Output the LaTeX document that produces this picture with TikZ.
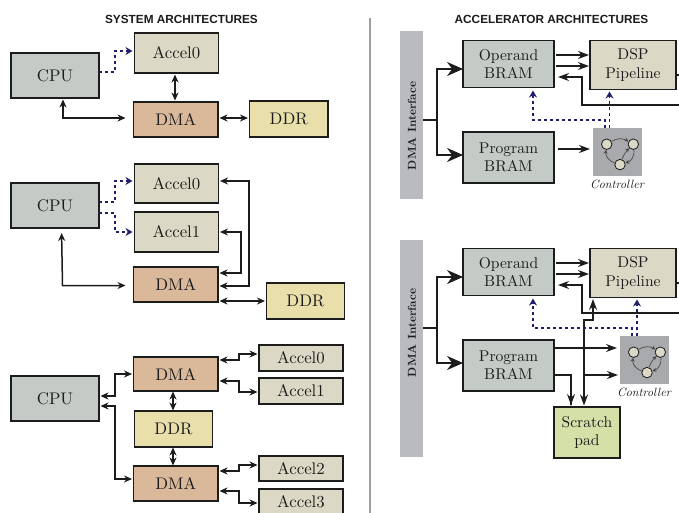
\documentclass[tikz,border=0pt]{standalone}
\usepackage{fontspec}
\usetikzlibrary{arrows.meta}
\setmainfont{lmroman10-regular.otf}[ItalicFont=lmroman10-italic.otf,BoldFont=lmroman10-bold.otf]
\newfontfamily\titlefont{Liberation Sans}
\definecolor{cpuc}{HTML}{C4CBC6}
\definecolor{accc}{HTML}{DBD8C5}
\definecolor{dmac}{HTML}{DAB99B}
\definecolor{ddrc}{HTML}{E9DFAB}
\definecolor{padc}{HTML}{D5E0A8}
\definecolor{barc}{HTML}{B9BBC0}
\definecolor{ctlc}{HTML}{A9AAAE}
\definecolor{inkc}{HTML}{1C1C1C}
\definecolor{navyc}{HTML}{1F1F6B}
\tikzset{
  blk/.style={draw=inkc,line width=1.4pt,inner sep=0pt,outer sep=0pt,align=center,text=inkc,
    font=\fontsize{16.8}{18}\selectfont},
  blkr/.style={blk,font=\fontsize{15.6}{18.5}\selectfont},
  conn/.style={draw=inkc,line width=1.3pt,{Stealth[length=8pt,width=7pt]}-{Stealth[length=8pt,width=7pt]},shorten <=1.5pt,shorten >=1.5pt},
  oneway/.style={draw=inkc,line width=1.4pt,-{Stealth[length=11pt,width=8pt]},shorten >=1pt},
  thickway/.style={draw=inkc,line width=2pt,-{Stealth[length=16pt,width=14pt]}},
  dots/.style={draw=navyc,line width=1.3pt,dash pattern=on 3pt off 3pt},
  dotarrow/.style={dots,-{Stealth[length=7pt,width=8pt]}},
  ttl/.style={font=\titlefont\bfseries\fontsize{11.8}{13}\selectfont,text=inkc,inner sep=0pt},
  bar/.style={fill=barc,draw=none,inner sep=0pt,outer sep=0pt},
  barlabel/.style={rotate=90,font=\bfseries\fontsize{11.5}{12}\selectfont,text=inkc,inner sep=0pt},
  ctlbox/.style={fill=ctlc,draw=none,minimum width=49pt,minimum height=48pt,inner sep=0pt,outer sep=0pt},
  fsm/.style={circle,fill=accc,draw=inkc,line width=.8pt,minimum size=10.5pt,inner sep=0pt},
  fsmedge/.style={draw=inkc!80,line width=.7pt,-{Stealth[length=4pt,width=4pt]}},
  ctllabel/.style={font=\itshape\fontsize{12}{13}\selectfont,text=inkc,inner sep=0pt},
}
% name, style, x1, y1, x2, y2, text
\newcommand\nbox[7]{%
  \pgfmathsetmacro\bw{#5-#3}\pgfmathsetmacro\bh{#6-#4}%
  \pgfmathsetmacro\bx{(#3+#5)/2}\pgfmathsetmacro\by{(#4+#6)/2}%
  \node[#2,minimum width=\bw pt,minimum height=\bh pt] (#1) at (\bx,\by) {#7};}
% name, centre x, centre y
\newcommand\ctlicon[3]{%
  \node[ctlbox] (#1) at (#2,#3) {};
  \node[fsm] (#1a) at ([shift={(-10.8,-7.8)}]#1.center) {};
  \node[fsm] (#1b) at ([shift={(15.8,-7.8)}]#1.center) {};
  \node[fsm] (#1c) at ([shift={(2.5,12.6)}]#1.center) {};
  \path[fsmedge] (#1a) to[bend left=30] (#1b);
  \path[fsmedge] (#1c) to[bend left=12] (#1b);
  \path[fsmedge] (#1c) to[bend left=40] (#1a);
  \path[fsmedge] (#1b) to[bend left=40] (#1c);
}
\begin{document}
\begin{tikzpicture}[x=1pt,y=-1pt]
\clip (0,0) rectangle (679,513);
\fill[white] (0,0) rectangle (679,513);
\node[ttl] (title1) at (181.5,19) {SYSTEM ARCHITECTURES};
\node[ttl] (title2) at (551.5,19) {ACCELERATOR ARCHITECTURES};
\coordinate (divtop) at (370,18);
\coordinate (divbot) at (370,513);
\draw[barc!85!black,line width=2pt] (divtop) -- (divbot);

% --- system 1
\nbox{cpua}{blk,fill=cpuc}{11}{53}{99}{98}{CPU}
\nbox{acca}{blk,fill=accc}{134.5}{33}{218.5}{73}{Accel0}
\nbox{dmaa}{blk,fill=dmac}{133.5}{102}{218}{137}{DMA}
\nbox{ddra}{blk,fill=ddrc}{249.5}{101}{328}{137}{DDR}
\draw[dots,-{Stealth[length=7pt,width=8pt]},shorten >=2pt] (cpua.east |- 0,72) -| (115,51) -- (acca.west |- 0,51);
\draw[conn] (acca.south -| 175,0) -- (dmaa.north -| 175,0);
\draw[conn,shorten >=8pt] (cpua.south -| 63,0) |- (dmaa.west |- 0,118);
\draw[conn] (dmaa.east |- 0,118) -- (ddra.west |- 0,118);

% --- system 2
\nbox{cpub}{blk,fill=cpuc}{11}{183}{99}{228}{CPU}
\nbox{accb}{blk,fill=accc}{134.5}{164}{218.5}{203}{Accel0}
\nbox{accc}{blk,fill=accc}{134.5}{212}{218.5}{252}{Accel1}
\nbox{dmab}{blk,fill=dmac}{133.5}{267}{218}{302}{DMA}
\nbox{ddrb}{blk,fill=ddrc}{266.5}{283}{344.5}{319}{DDR}
\draw[dots,-{Stealth[length=7pt,width=8pt]},shorten >=2pt] (cpub.east |- 0,202) -| (115,181) -- (accb.west |- 0,181);
\draw[dots,-{Stealth[length=7pt,width=8pt]},shorten >=2pt] (cpub.east |- 0,213) -| (115,232) -- (accc.west |- 0,232);
\draw[conn] (accb.east |- 0,181) -| (249,286) -- (dmab.east |- 0,286);
\draw[conn] (accc.east |- 0,232) -| (241,273) -- (dmab.east |- 0,273);
\draw[conn] (dmab.east |- 0,301) -- (ddrb.west |- 0,301);
\draw[conn,line width=1.5pt,shorten <=5pt,shorten >=8pt] (cpub.south -| 61.5,0) -- (62.5,285.5) -- (dmab.west |- 0,285.5);

% --- system 3
\nbox{cpuc}{blk,fill=cpuc}{11}{376}{99}{421}{CPU}
\nbox{dmac}{blk,fill=dmac}{133.5}{357}{218}{391}{DMA}
\nbox{ddrc}{blk,fill=ddrc}{134.5}{411}{212.5}{447}{DDR}
\nbox{dmad}{blk,fill=dmac}{133.5}{466}{218}{501}{DMA}
\nbox{acd}{blk,fill=accc}{259}{345}{343}{371}{Accel0}
\nbox{ace}{blk,fill=accc}{259}{378}{343}{404}{Accel1}
\nbox{acf}{blk,fill=accc}{259}{456}{343}{481}{Accel2}
\nbox{acg}{blk,fill=accc}{259}{489}{343}{515}{Accel3}
\draw[conn] (cpuc.east |- 0,396) -| (115,374) -- (dmac.west |- 0,374);
\draw[conn] (cpuc.east |- 0,406) -| (115,479) -- (dmad.west |- 0,479);
\draw[conn] (dmac.east |- 0,360) -| (239,354) -- (acd.west |- 0,354);
\draw[conn] (dmac.east |- 0,381) -| (239,392) -- (ace.west |- 0,392);
\draw[conn] (dmad.east |- 0,471) -| (239,465) -- (acf.west |- 0,465);
\draw[conn] (dmad.east |- 0,491) -| (239,503) -- (acg.west |- 0,503);
\draw[conn,shorten <=.5pt,shorten >=.5pt] (dmac.south -| 173,0) -- (ddrc.north -| 173,0);
\draw[conn,shorten <=.5pt,shorten >=.5pt] (ddrc.south -| 173,0) -- (dmad.north -| 173,0);

% --- accelerator 1
\nbox{bara}{bar}{400}{31}{423}{199}{}
\node[barlabel] (barla) at (412,126) {DMA Interface};
\nbox{opa}{blkr,fill=cpuc}{463}{40.5}{554}{87.5}{Operand\\BRAM}
\nbox{dspa}{blkr,fill=accc}{590}{40.5}{676}{89.5}{DSP\\Pipeline}
\nbox{proga}{blkr,fill=cpuc}{463}{132}{554}{183}{Program\\BRAM}
\ctlicon{ctla}{617.5}{152}
\node[ctllabel] (ctlla) at (617,184) {Controller};
\draw[thickway] (bara.east |- 0,120) -- (437,120) |- (opa.west |- 0,69);
\draw[thickway] (437,120) |- (proga.west |- 0,155);
\draw[oneway,shorten <=2pt] (opa.east |- 0,55) -- (dspa.west |- 0,55);
\draw[oneway,shorten <=2pt] (opa.east |- 0,66) -- (dspa.west |- 0,66);
\draw[inkc,line width=1.4pt] (dspa.east |- 0,75) -- (679,75);
\coordinate (backa) at (679,105);
\draw[oneway,shorten >=4pt] (backa) -| (582,77) -- (opa.east |- 0,77);
\draw[oneway,shorten <=4pt,shorten >=3pt] (proga.east |- 0,149) -- (ctla.west |- 0,149);
\draw[dotarrow,shorten >=3pt] (605,128) -- (605,120) -- (533,120) -- (opa.south -| 533,0);
\draw[dotarrow,shorten >=2pt] (ctla.north -| 609.5,0) -- (dspa.south -| 609.5,0);

% --- accelerator 2
\nbox{barb}{bar}{400}{240}{423}{457}{}
\node[barlabel] (barlb) at (412,333) {DMA Interface};
\nbox{opb}{blkr,fill=cpuc}{463}{248.5}{554}{295.5}{Operand\\BRAM}
\nbox{dspb}{blkr,fill=accc}{590}{248.5}{676}{297.5}{DSP\\Pipeline}
\nbox{progb}{blkr,fill=cpuc}{463}{340}{554}{391}{Program\\BRAM}
\nbox{pad}{blkr,fill=padc}{554}{407}{620}{458}{Scratch\\pad}
\ctlicon{ctlb}{644.5}{360}
\node[ctllabel] (ctllb) at (644,392) {Controller};
\draw[thickway] (barb.east |- 0,328) -- (437,328) |- (opb.west |- 0,277);
\draw[thickway] (437,328) |- (progb.west |- 0,363);
\draw[oneway,shorten <=2pt] (opb.east |- 0,263) -- (dspb.west |- 0,263);
\draw[oneway,shorten <=2pt] (opb.east |- 0,274) -- (dspb.west |- 0,274);
\draw[inkc,line width=1.4pt] (dspb.east |- 0,283) -- (679,283);
\coordinate (backb) at (679,313);
\draw[oneway,shorten >=4pt] (backb) -| (582,285) -- (opb.east |- 0,285);
\draw[oneway,shorten >=3pt] (progb.east |- 0,348) -- (ctlb.west |- 0,348);
\draw[oneway,shorten >=2pt] (progb.east |- 0,375) -| (571,405) -- (pad.north -| 571,0);
\draw[oneway,shorten >=2pt] (584,375) -- (ctlb.west |- 0,375);
\draw[draw=inkc,line width=1.4pt,{Stealth[length=11pt,width=8pt]}-{Stealth[length=11pt,width=8pt]},shorten <=1.5pt,shorten >=1.5pt] (pad.north -| 584,0) |- (593,320) -- (dspb.south -| 593,0);
\draw[dotarrow,shorten >=3pt] (632,336) -- (632,328) -- (533,328) -- (opb.south -| 533,0);
\draw[dotarrow,shorten >=2pt] (ctlb.north -| 637,0) -- (dspb.south -| 637,0);
\end{tikzpicture}
\end{document}
